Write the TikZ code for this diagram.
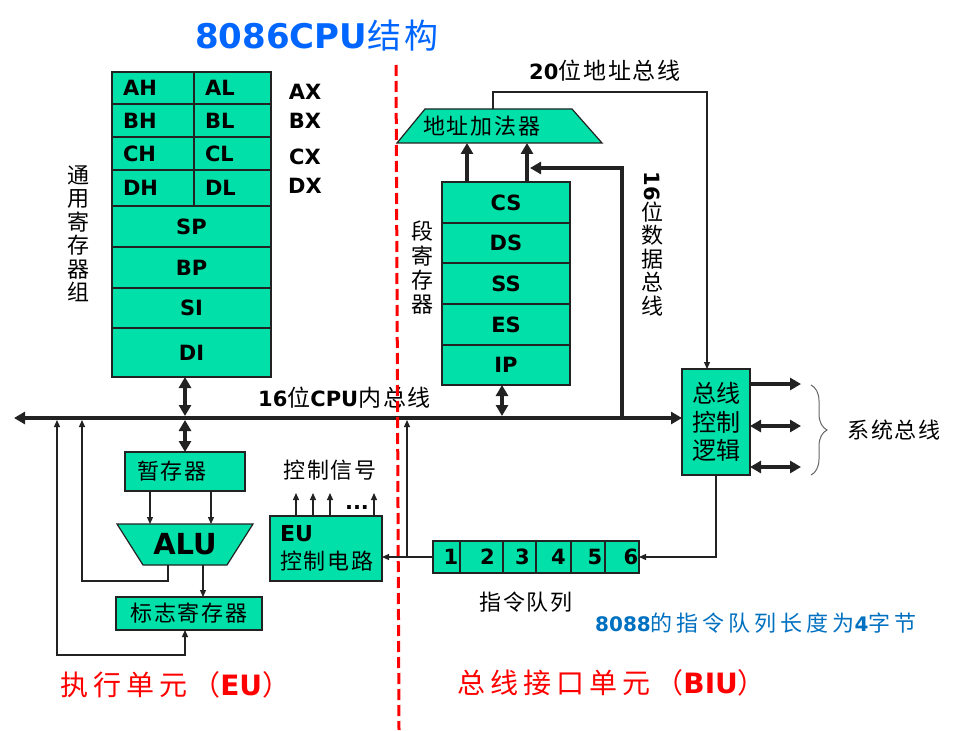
\documentclass[tikz,border=0pt]{standalone}
\usepackage{fontspec}
\setmainfont{DejaVu Sans}
\newfontfamily\cjk[LetterSpace=8]{Noto Sans CJK SC}
\newfontfamily\cjkw[LetterSpace=18]{Noto Sans CJK SC}
\newfontfamily\cjkv{Noto Sans CJK SC}
\usetikzlibrary{arrows.meta, positioning, decorations.pathreplacing, backgrounds}
\definecolor{regfill}{RGB}{0,224,168}
\definecolor{linec}{RGB}{34,34,34}
\definecolor{titleblue}{RGB}{0,102,255}
\definecolor{noteblue}{RGB}{0,112,192}
\definecolor{unitred}{RGB}{255,0,0}
\newcommand{\regfont}{\bfseries\fontsize{21}{24}\selectfont}
\newcommand{\zhfont}{\cjk\mdseries\fontsize{22}{26}\selectfont}
\newcommand{\zh}[1]{{\cjk\mdseries #1}}
\newcommand{\zhb}[1]{{\cjk\mdseries\fontsize{23}{26}\selectfont #1}}
\newcommand{\en}[1]{{\rmfamily\bfseries #1}}

\begin{document}
\begin{tikzpicture}[x=1pt, y=-1pt,
  box/.style={draw=linec, line width=1.2pt, fill=regfill, inner sep=0pt, outer sep=0pt},
  half/.style={box, anchor=north west, inner xsep=11pt, align=left, font=\regfont},
  row/.style={box, anchor=north west, minimum width=159pt, font=\regfont},
  segrow/.style={box, anchor=north west, minimum width=128pt, font=\regfont},
  qcell/.style={box, minimum height=32pt},
  qnum/.style={font=\regfont},
  lbl/.style={font=\regfont},
  zhlbl/.style={font=\zhfont},
  vlbl/.style={font=\cjkv\mdseries\fontsize{22}{23.5}\selectfont, align=center, inner sep=0pt},
  trapbody/.style={inner sep=0pt, outer sep=0pt},
  bus/.style={draw=linec, line width=4pt, >={Triangle[length=11pt, width=12pt]}},
  wire/.style={draw=linec, line width=1.2pt, >={Triangle[length=7pt, width=6pt]}},
  sysbrace/.style={draw=black!60, line width=1pt, decorate, decoration={brace, amplitude=16pt}},
  divider/.style={draw=unitred, line width=3pt, dash pattern=on 11pt off 5pt}]
\useasboundingbox (0,0) rectangle (973,730);

% title
\node[anchor=west, inner sep=0pt, text=titleblue, font=\bfseries\fontsize{34}{38}\selectfont] (title) at (195,36) {8086CPU\zh{结构}};

% general registers
\node[half, minimum width=82pt, text width=60pt, minimum height=32pt] (ah) at (112,72) {AH};
\node[half, minimum width=77pt, text width=55pt, minimum height=32pt] (al) at (ah.north east) {AL};
\node[half, minimum width=82pt, text width=60pt, minimum height=33pt] (bh) at (ah.south west) {BH};
\node[half, minimum width=77pt, text width=55pt, minimum height=33pt] (bl) at (bh.north east) {BL};
\node[half, minimum width=82pt, text width=60pt, minimum height=33pt] (ch) at (bh.south west) {CH};
\node[half, minimum width=77pt, text width=55pt, minimum height=33pt] (cl) at (ch.north east) {CL};
\node[half, minimum width=82pt, text width=60pt, minimum height=36pt] (dh) at (ch.south west) {DH};
\node[half, minimum width=77pt, text width=55pt, minimum height=36pt] (dl) at (dh.north east) {DL};
\node[row, minimum height=41pt] (sp) at (dh.south west) {SP};
\node[row, minimum height=41pt] (bp) at (sp.south west) {BP};
\node[row, minimum height=40pt] (si) at (bp.south west) {SI};
\node[row, minimum height=49pt] (di) at (si.south west) {DI};
\node[lbl] (ax) at (305,92) {AX};
\node[lbl] (bx) at (305,121) {BX};
\node[lbl] (cx) at (305,157) {CX};
\node[lbl] (dx) at (305,186) {DX};
\node[vlbl] (gprlab) at (78,234) {通\\用\\寄\\存\\器\\组};

% segment registers
\node[segrow, minimum height=41pt] (cs) at (442,182) {CS};
\node[segrow, minimum height=40pt] (ds) at (cs.south west) {DS};
\node[segrow, minimum height=41pt] (ss) at (ds.south west) {SS};
\node[segrow, minimum height=41pt] (es) at (ss.south west) {ES};
\node[segrow, minimum height=40pt] (ip) at (es.south west) {IP};
\node[vlbl, font=\cjkv\mdseries\fontsize{22}{24.3}\selectfont] (seglab) at (422,268) {段\\寄\\存\\器};
\node[trapbody, minimum width=205pt, inner xsep=26pt, text width=153pt, align=left, minimum height=34pt, font=\zhfont] (adder) at (499.5,126) {地址加法器};
\node[lbl, anchor=west, inner sep=0pt] (ablab) at (529,71) {20\zhb{位地址总线}};
\node[lbl, rotate=-90] (d16) at (652,186) {16};
\node[vlbl] (dlab) at (652,259) {位\\数\\据\\总\\线};

% bus control and queue
\node[box, minimum width=68pt, minimum height=106pt, align=center, font=\cjkv\mdseries\fontsize{24}{28.5}\selectfont] (bc) at (716,422) {总线\\控制\\逻辑};
\node[zhlbl] (syslab) at (894,430) {系统总线};
\node[qcell, minimum width=27pt, label={[qnum, xshift=4.5pt]center:1}] (q1) at (446.5,557) {};
\node[qcell, minimum width=43pt, right=0pt of q1, label={[qnum, xshift=6pt]center:2}] (q2) {};
\node[qcell, minimum width=33pt, right=0pt of q2, label={[qnum, xshift=3pt]center:3}] (q3) {};
\node[qcell, minimum width=35pt, right=0pt of q3, label={[qnum, xshift=5pt]center:4}] (q4) {};
\node[qcell, minimum width=34pt, right=0pt of q4, label={[qnum, xshift=7pt]center:5}] (q5) {};
\node[qcell, minimum width=34pt, right=0pt of q5, label={[qnum, xshift=9pt]center:6}] (q6) {};
\node[zhlbl] (qlab) at (526,602) {指令队列};
\node[anchor=west, inner sep=0pt, text=noteblue, font=\bfseries\fontsize{20}{24}\selectfont] (note) at (595,623) {8088{\cjkw\mdseries\fontsize{22}{24}\selectfont 的指令队列长度为}4{\cjkw\mdseries\fontsize{22}{24}\selectfont 字节}};

% execution unit
\node[lbl, anchor=west, inner sep=0pt] (buslab) at (258,398) {16\zhb{位}CPU\zhb{内总线}};
\node[box, minimum width=120pt, text width=96pt, inner xsep=12pt, minimum height=39pt, align=left, font=\zhfont] (tmp) at (185,471.5) {暂存器};
\node[trapbody, minimum width=136pt, minimum height=41pt, font=\bfseries\fontsize{29}{32}\selectfont] (alu) at (185,544.5) {ALU};
\node[box, minimum width=146pt, minimum height=33pt, font=\zhfont] (flags) at (189,613.5) {标志寄存器};
\node[box, minimum width=112pt, text width=92pt, inner xsep=10pt, minimum height=65pt, align=left, font=\cjk\mdseries\fontsize{22}{28}\selectfont] (eucu) at (326,548.5) {\en{EU}\\控制电路};
\node[zhlbl] (siglab) at (330,470) {控制信号};
\node[lbl] (dots) at (357,508) {...};

\node[anchor=west, inner sep=0pt, text=unitred, font=\bfseries\fontsize{28}{30}\selectfont] (eulab) at (60,685) {{\cjkw\mdseries 执行单元（}EU{\cjkw\mdseries ）}};
\node[anchor=west, inner sep=0pt, text=unitred, font=\bfseries\fontsize{28}{30}\selectfont] (biulab) at (457,683) {{\cjkw\mdseries 总线接口单元（}BIU{\cjkw\mdseries ）}};

% trapezium outlines behind the adder and the ALU
\begin{scope}[on background layer]
\fill[white] (0,0) rectangle (973,730);
\draw[box] ([xshift=28pt]adder.north west) -- ([xshift=-30pt]adder.north east) -- (adder.south east) -- (adder.south west) -- cycle;
\draw[box] (alu.north west) -- (alu.north east) -- ([xshift=-26pt]alu.south east) -- ([xshift=26pt]alu.south west) -- cycle;
\end{scope}

% internal bus
\coordinate (busL) at (14,418);
\draw[bus,<->] (busL) -- (busL -| bc.west);
\coordinate (dA) at (185,416);
\coordinate (dB) at (185,420);
\coordinate (dC) at (502,416);
\draw[bus,<->] (di.south -| dA) -- (dA);
\draw[bus,<->] (dB) -- (tmp.north -| dB);
\draw[bus,<->] (ip.south -| dC) -- (dC);

% segment registers to adder
\coordinate (aA) at (467,143);
\coordinate (aB) at (527,143);
\draw[bus,->] (cs.north -| aA) -- (adder.south -| aA);
\draw[bus,->] (cs.north -| aB) -- (adder.south -| aB);
\coordinate (dj) at (622,420);
\coordinate (dtop) at (622,168);
\coordinate (dend) at (530,168);
\draw[bus,->] (dj) -- (dtop) -- (dend);
\coordinate (aC) at (493,92);
\coordinate (abus) at (707,92);
\draw[wire,->] (adder.north -| aC) -- (aC) -- (abus) -- (abus |- bc.north);

% system bus
\coordinate (sysA) at (801,384);
\coordinate (sysB) at (801,426);
\coordinate (sysC) at (801,467);
\draw[bus,->] (sysA -| bc.east) -- (sysA);
\draw[bus,<->] (sysB -| bc.east) -- (sysB);
\draw[bus,<->] (sysC -| bc.east) -- (sysC);
\coordinate (brT) at (811,385);
\coordinate (brB) at (811,475);
\draw[sysbrace] (brT) -- (brB);

% queue
\draw[wire,->] (bc.south) |- (q6.east);
\coordinate (qj) at (407,557);
\coordinate (qup) at (407,420);
\draw[wire,->] (q1.west) -- (eucu.east |- q1.west);
\draw[wire,->] (qj) -- (qup);

% control signals
\coordinate (s1) at (296,493);
\coordinate (s2) at (313,493);
\coordinate (s3) at (330,493);
\coordinate (s4) at (374,493);
\draw[wire,->] (eucu.north -| s1) -- (s1);
\draw[wire,->] (eucu.north -| s2) -- (s2);
\draw[wire,->] (eucu.north -| s3) -- (s3);
\draw[wire,->] (eucu.north -| s4) -- (s4);

% ALU paths
\coordinate (tA) at (150,524);
\coordinate (tB) at (211,524);
\draw[wire,->] (tmp.south -| tA) -- (alu.north -| tA);
\draw[wire,->] (tmp.south -| tB) -- (alu.north -| tB);
\coordinate (lA) at (168,581);
\coordinate (lB) at (82,581);
\coordinate (lC) at (82,420);
\draw[wire,->] (alu.south -| lA) -- (lA) -- (lB) -- (lC);
\coordinate (fA) at (203,597);
\draw[wire,->] (alu.south -| fA) -- (flags.north -| fA);
\coordinate (fB) at (185,655);
\coordinate (fC) at (57,655);
\coordinate (fD) at (57,420);
\draw[wire,<->] (fD) -- (fC) -- (fB) -- (flags.south -| fB);

% EU / BIU divider
\coordinate (divT) at (396,65);
\coordinate (divB) at (399,730);
\draw[divider] (divT) -- (divB);
\end{tikzpicture}
\end{document}
